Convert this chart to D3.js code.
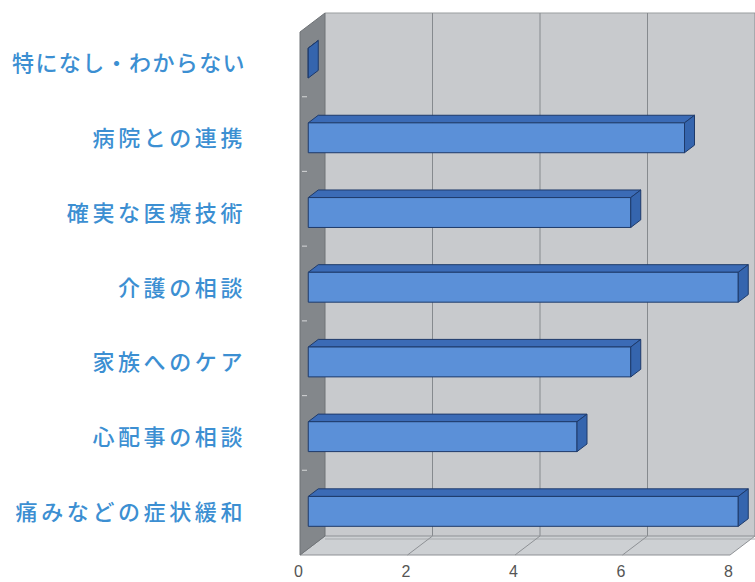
<!DOCTYPE html>
<html>
<head>
<meta charset="utf-8">
<script src="https://cdn.jsdelivr.net/npm/d3@7"></script>
<style>
  html, body { margin: 0; padding: 0; background: #ffffff; }
  svg { display: block; }
</style>
</head>
<body>
<svg id="chart" width="755" height="582"></svg>
<script>
// Categories (top to bottom) and their counts
const categories = [
  "特になし・わからない",
  "病院との連携",
  "確実な医療技術",
  "介護の相談",
  "家族へのケア",
  "心配事の相談",
  "痛みなどの症状緩和"
];
const values = [0, 7, 6, 8, 6, 5, 8];
const tickValues = [0, 2, 4, 6, 8];

const svg = d3.select("#chart");

// Front plane of the 3D box
const front = { left: 300, right: 730, top: 32, bottom: 555 };
// Projection of the depth axis (0 = front, 1 = back)
const depth = { dx: 25, dy: -19 };
const P = (x, y, d) => [x + depth.dx * d, y + depth.dy * d];

const x = d3.scaleLinear().domain([0, 8]).range([front.left, front.right]);
const y = d3.scaleBand().domain(categories)
  .range([front.top, front.bottom])
  .paddingInner(0.6).paddingOuter(0.3);

const poly = pts => "M" + pts.map(p => p.join(",")).join("L") + "Z";

const g = svg.append("g");

// Back wall
const [bx0, by0] = P(x(0), front.top, 1);
const [bx1, by1] = P(x(8), front.bottom, 1);
g.append("rect")
  .attr("x", bx0).attr("y", by0)
  .attr("width", 800 - bx0).attr("height", by1 - by0)
  .attr("fill", "#c8cacd");
g.append("line")
  .attr("x1", bx0).attr("x2", 800).attr("y1", by0).attr("y2", by0)
  .attr("stroke", "#9a9da0").attr("stroke-width", 1.2);

// Vertical gridlines on the back wall
g.selectAll("line.grid").data(tickValues.filter(v => v > 0)).join("line")
  .attr("class", "grid")
  .attr("x1", d => P(x(d), 0, 1)[0]).attr("x2", d => P(x(d), 0, 1)[0])
  .attr("y1", by0).attr("y2", by1)
  .attr("stroke", "#868a8e").attr("stroke-width", 1);

// Floor
g.append("path")
  .attr("d", poly([
    P(x(0), front.bottom, 0), P(x(8), front.bottom, 0),
    P(x(8), front.bottom, 1), P(x(0), front.bottom, 1)
  ]))
  .attr("fill", "#cdd0d3").attr("stroke", "#8e9195").attr("stroke-width", 1);
g.append("line")
  .attr("x1", P(x(0), front.bottom, 1)[0]).attr("x2", 800)
  .attr("y1", P(0, front.bottom, 1)[1] + 3).attr("y2", P(0, front.bottom, 1)[1] + 3)
  .attr("stroke", "#a7aaad").attr("stroke-width", 1);
g.selectAll("line.floorgrid").data(tickValues.filter(v => v > 0 && v < 8)).join("line")
  .attr("class", "floorgrid")
  .attr("x1", d => x(d)).attr("y1", front.bottom)
  .attr("x2", d => P(x(d), front.bottom, 1)[0]).attr("y2", P(0, front.bottom, 1)[1])
  .attr("stroke", "#8e9195").attr("stroke-width", 1);

// Left side wall
g.append("path")
  .attr("d", poly([
    P(x(0), front.top, 0), P(x(0), front.top, 1),
    P(x(0), front.bottom, 1), P(x(0), front.bottom, 0)
  ]))
  .attr("fill", "#83878b").attr("stroke", "#6f7377").attr("stroke-width", 1);

// Category tick marks along the wall edge
g.selectAll("line.ctick").data(categories.slice(1)).join("line")
  .attr("class", "ctick")
  .attr("x1", x(0) + 2).attr("x2", x(0) + 7)
  .attr("y1", d => y(d) - y.step() * y.paddingInner() / 2 - 10)
  .attr("y2", d => y(d) - y.step() * y.paddingInner() / 2 - 10)
  .attr("stroke", "#c9cbcd").attr("stroke-width", 1.2);

// Bars: top face, front face and end cap
const d0 = 0.33, d1 = 0.73;
const bars = g.selectAll("g.bar")
  .data(categories.map((c, i) => ({ c, v: values[i] })))
  .join("g").attr("class", "bar");

bars.append("path")
  .attr("d", d => {
    const t = y(d.c), xl = x(0), xr = x(d.v);
    return poly([P(xl, t, d0), P(xr, t, d0), P(xr, t, d1), P(xl, t, d1)]);
  })
  .attr("fill", "#3b6bb6").attr("stroke", "#1e3a6a").attr("stroke-width", 1);

bars.append("path")
  .attr("d", d => {
    const t = y(d.c), b = t + y.bandwidth(), xl = x(0), xr = x(d.v);
    return poly([P(xl, t, d0), P(xr, t, d0), P(xr, b, d0), P(xl, b, d0)]);
  })
  .attr("fill", "#5b90d8").attr("stroke", "#1e3a6a").attr("stroke-width", 1);

bars.append("path")
  .attr("d", d => {
    const t = y(d.c), b = t + y.bandwidth(), xr = x(d.v);
    return poly([P(xr, t, d0), P(xr, t, d1), P(xr, b, d1), P(xr, b, d0)]);
  })
  .attr("fill", "#3565ae").attr("stroke", "#1e3a6a").attr("stroke-width", 1);

// Value axis labels
const xAxis = svg.append("g")
  .attr("transform", `translate(-2,${front.bottom + 8})`)
  .call(d3.axisBottom(x).tickValues(tickValues).tickSize(0).tickFormat(d3.format("d")));
xAxis.select(".domain").remove();
xAxis.selectAll("text")
  .attr("font-family", "'Liberation Sans Narrow', 'Liberation Sans', Arial, sans-serif")
  .attr("font-size", 16).attr("fill", "#555");

// Category labels (the long label is set slightly tighter)
const yAxis = svg.append("g")
  .attr("transform", `translate(${front.left - 54},${-5})`)
  .call(d3.axisLeft(y).tickSize(0).tickPadding(0));
yAxis.select(".domain").remove();
yAxis.selectAll("text")
  .attr("font-family", "'Noto Sans CJK JP', sans-serif")
  .attr("font-size", 22)
  .attr("font-weight", 500)
  .attr("letter-spacing", d => d.length > 9 ? "1.4px" : "3.6px")
  .attr("fill", "#3c8fd2");
</script>
</body>
</html>
